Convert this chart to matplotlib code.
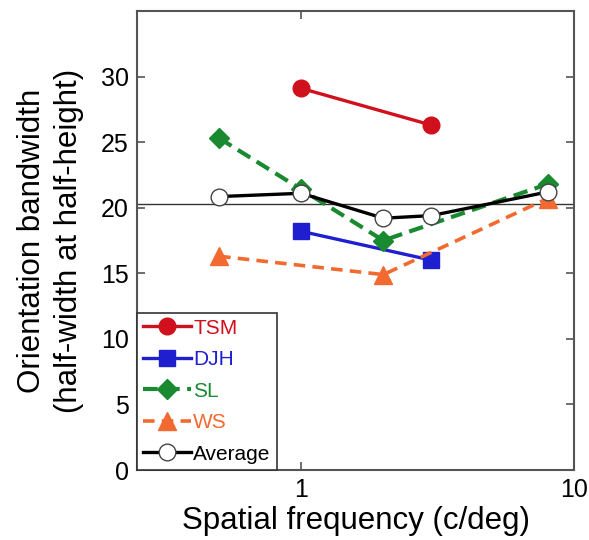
import matplotlib
matplotlib.use("Agg")
import matplotlib.pyplot as plt
from matplotlib.ticker import FixedLocator, NullLocator, FixedFormatter

plt.rcParams['font.family'] = ['Liberation Sans', 'DejaVu Sans']

tsm_x = [1, 3]
tsm_y = [29.1, 26.3]
djh_x = [1, 3]
djh_y = [18.2, 16.0]
sl_x = [0.5, 1, 2, 8]
sl_y = [25.3, 21.4, 17.5, 21.8]
ws_x = [0.5, 2, 8]
ws_y = [16.3, 14.9, 20.7]
avg_x = [0.5, 1, 2, 3, 8]
avg_y = [20.85, 21.1, 19.2, 19.4, 21.2]
ref_level = 20.3

fig = plt.figure(figsize=(5.89, 5.40), dpi=100)
ax = fig.add_axes([137/589, 1-470/540, (574-137)/589, (470-11)/540])

red = '#d0101c'
blue = '#1f1fd0'
green = '#1a8a30'
orange = '#f26a30'

ax.axhline(ref_level, color='#333333', lw=1.0, zorder=1)
ax.plot(tsm_x, tsm_y, '-', color=red, lw=2.4, marker='o', ms=12, label='TSM', zorder=3)
ax.plot(djh_x, djh_y, '-', color=blue, lw=2.4, marker='s', ms=12, label='DJH', zorder=3)
ax.plot(sl_x, sl_y, '--', color=green, lw=3.0, marker='D', ms=10, dashes=(3.5, 1.8), label='SL', zorder=3)
ax.plot(ws_x, ws_y, '--', color=orange, lw=2.6, marker='^', ms=13, dashes=(3.2, 2.0), label='WS', zorder=3)
ax.plot(avg_x, avg_y, '-', color='black', lw=2.4, marker='o', ms=12, mfc='white', mec='#444444', mew=1.0, label='Average', zorder=4)

ax.set_xscale('log')
ax.set_xlim(0.25, 10)
ax.set_ylim(0, 35)
ax.xaxis.set_major_locator(FixedLocator([1, 10]))
ax.xaxis.set_major_formatter(FixedFormatter(['1', '10']))
ax.xaxis.set_minor_locator(NullLocator())
ax.set_yticks([0, 5, 10, 15, 20, 25, 30])
ax.tick_params(direction='in', length=6, width=1.2, labelsize=18, top=True, right=True, color='#555555', pad=6)
for s in ax.spines.values():
    s.set_color('#555555')
    s.set_linewidth(1.5)

ax.set_xlabel('Spatial frequency (c/deg)', fontsize=22.5, labelpad=3)
ax.set_ylabel('Orientation bandwidth\n(half-width at half-height)', fontsize=22.5, labelpad=12, linespacing=1.3)

leg = ax.legend(loc='lower left', borderaxespad=0, fancybox=False, framealpha=1,
                edgecolor='#333333', fontsize=15, handlelength=2.3, handletextpad=0.1,
                labelspacing=0.6, borderpad=0.3)
leg.get_frame().set_linewidth(1.2)
for t, c in zip(leg.get_texts(), [red, blue, green, orange, 'black']):
    t.set_color(c)

fig.savefig('out.png', dpi=100)
